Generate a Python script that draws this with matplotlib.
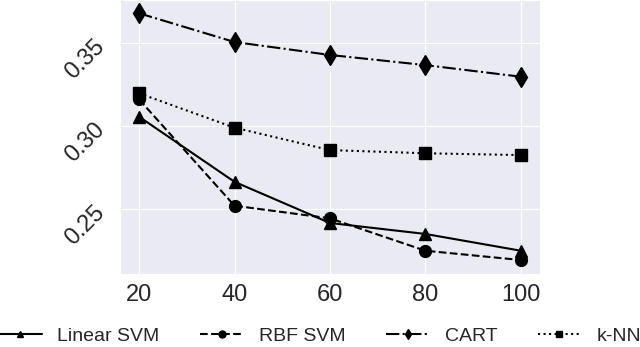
import matplotlib
matplotlib.use("Agg")
import matplotlib.pyplot as plt
import seaborn as sns

sns.set_style("darkgrid")
plt.rcParams['font.family'] = ['Liberation Sans', 'DejaVu Sans']

x = [20, 40, 60, 80, 100]
linear_svm = [0.3056, 0.2664, 0.2416, 0.2350, 0.2249]
rbf_svm = [0.3160, 0.2520, 0.2444, 0.2249, 0.2193]
cart = [0.3679, 0.3506, 0.3428, 0.3367, 0.3297]
knn = [0.3197, 0.2990, 0.2855, 0.2836, 0.2825]

fig = plt.figure(figsize=(6.4, 3.47), dpi=100)
ax = fig.add_axes([0.1875, 0.21, 0.656, 0.79])

ax.plot(x, linear_svm, 'k-', marker='^', ms=9, lw=1.5, label='Linear SVM')
ax.plot(x, rbf_svm, 'k--', marker='o', ms=8.5, lw=1.5, label='RBF SVM')
ax.plot(x, cart, 'k-.', marker='d', ms=10, lw=1.5, label='CART')
ax.plot(x, knn, 'k:', marker='s', ms=8, lw=1.5, label='k-NN')

ax.set_xlim(16, 104)
ax.set_ylim(0.2108, 0.3759)
ax.set_xticks(x)
ax.set_yticks([0.25, 0.30, 0.35])
ax.set_yticklabels(['0.25', '0.30', '0.35'], rotation=45,
                   rotation_mode='anchor', ha='right', va='center')
ax.tick_params(axis='both', labelsize=17, colors='#262626')
ax.tick_params(axis='y', pad=10)

leg = fig.legend(loc='lower center', bbox_to_anchor=(0.5, -0.045),
                 ncol=4, frameon=False, fontsize=14, handlelength=2.2,
                 handletextpad=0.8, columnspacing=2.1)
for h in leg.legend_handles:
    h.set_markersize(5)

fig.savefig("out.png", dpi=100)
